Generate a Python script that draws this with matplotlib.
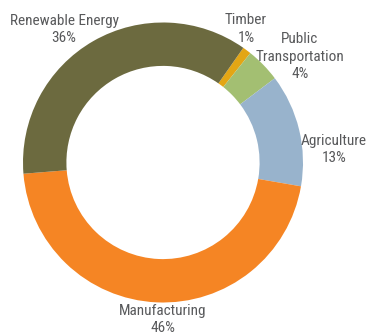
import matplotlib
matplotlib.use("Agg")
import matplotlib.pyplot as plt
from matplotlib import font_manager

# Share of total by sector (clockwise from Timber)
sectors = ["Timber", "Public\nTransportation", "Agriculture", "Manufacturing", "Renewable Energy"]
shares = [1, 4, 13, 46, 36]
colors = ["#E3A615", "#A3BF72", "#98B3CC", "#F58524", "#6C6A3F"]

W, H = 368, 332
CX, CY, R = 163, 162.5, 140  # pie centre and radius in pixels


def pick_narrow_font():
    """Return (family, stretch, size) for a condensed sans face if one exists."""
    entries = font_manager.fontManager.ttflist
    for wanted in ["Liberation Sans Narrow", "Arial Narrow", "Roboto Condensed",
                   "Open Sans Condensed", "DejaVu Sans Condensed", "Noto Sans Condensed"]:
        if any(e.name == wanted for e in entries):
            return wanted, "normal", 11
    for fam in ["Noto Sans", "Open Sans", "Roboto", "DejaVu Sans"]:
        for e in entries:
            if e.name == fam and str(e.stretch) in ("condensed", "semi-condensed", "75", "87.5"):
                return fam, "condensed", 11
    return "Liberation Sans", "normal", 9.6


family, stretch, size = pick_narrow_font()

fig = plt.figure(figsize=(W / 100, H / 100), dpi=100)
ax = fig.add_axes([0, 0, 1, 1])

ax.pie(shares, colors=colors, startangle=55, counterclock=False,
       radius=1.0, wedgeprops=dict(width=0.31, edgecolor="none"))

ax.set_xlim(-CX / R, (W - CX) / R)
ax.set_ylim(-(H - CY) / R, CY / R)
ax.set_aspect("equal")
ax.axis("off")


def px(x, y):
    return (x - CX) / R, (CY - y) / R


font = dict(family=[family, "DejaVu Sans"], fontstretch=stretch,
            fontsize=size, color="#58595B", ha="center", va="center")

# label centre (x) and the vertical centre of its first line (y), in pixels
label_pos = {
    "Timber": (246, 20),
    "Public\nTransportation": (300, 39),
    "Agriculture": (334, 141),
    "Manufacturing": (163, 311),
    "Renewable Energy": (64, 21),
}
LINE = 17.5  # pixel spacing between label lines

for name, val in zip(sectors, shares):
    x0, y0 = label_pos[name]
    lines = name.split("\n") + [f"{val}%"]
    for i, line in enumerate(lines):
        x, y = px(x0, y0 + i * LINE)
        ax.text(x, y, line, **font)

fig.savefig("out.png", dpi=100)
